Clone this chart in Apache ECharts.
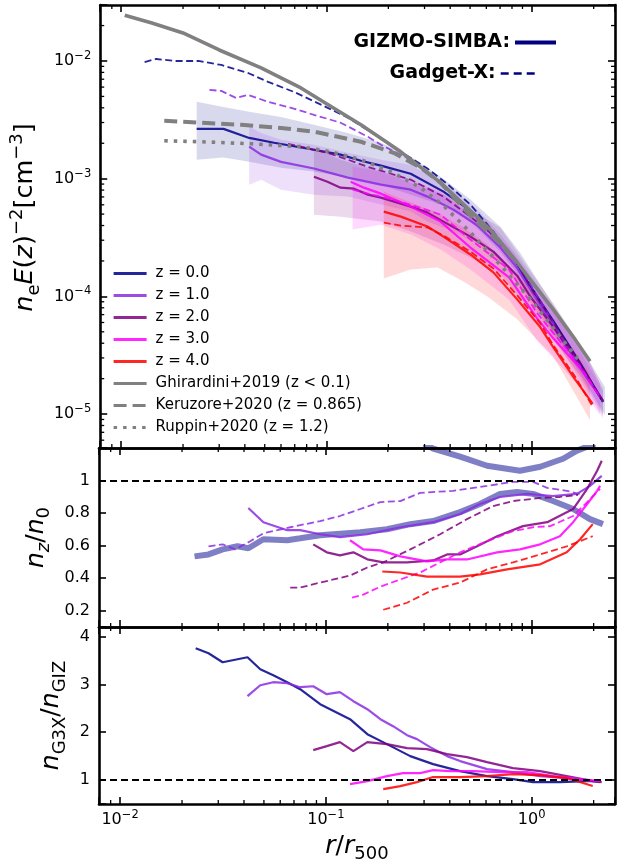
<!DOCTYPE html>
<html>
<head>
<meta charset="utf-8">
<script src="https://cdn.jsdelivr.net/npm/echarts@6/dist/echarts.min.js"></script>
<style>
  html, body { margin: 0; padding: 0; background: #fff; }
  #chart { width: 627px; height: 864px; }
</style>
</head>
<body>
<div id="chart"></div>
<script>
// ---- top panel: n_e E(z)^-2 profiles ----
const rGhir = [0.0104, 0.0141, 0.020, 0.030, 0.048, 0.075, 0.100, 0.147, 0.230, 0.359, 0.627, 0.848, 0.981, 1.27, 1.62, 1.92];
const nGhir = [2.45e-2, 2.10e-2, 1.73e-2, 1.24e-2, 8.73e-3, 5.90e-3, 4.33e-3, 2.87e-3, 1.69e-3, 9.25e-4, 3.70e-4, 1.94e-4, 1.39e-4, 7.76e-5, 4.33e-5, 2.81e-5];
const rKeru = [0.0162, 0.0245, 0.0384, 0.060, 0.0877, 0.147, 0.212, 0.287, 0.359, 0.502, 0.702, 0.848];
const nKeru = [3.10e-3, 2.99e-3, 2.87e-3, 2.70e-3, 2.50e-3, 2.06e-3, 1.66e-3, 1.24e-3, 9.25e-4, 4.85e-4, 2.81e-4, 1.91e-4];
const rRupp = [0.0162, 0.0245, 0.0429, 0.075, 0.105, 0.147, 0.205, 0.287, 0.371, 0.502, 0.702, 0.981, 1.23, 1.72];
const nRupp = [2.10e-3, 2.06e-3, 1.98e-3, 1.87e-3, 1.69e-3, 1.45e-3, 1.15e-3, 8.39e-4, 5.90e-4, 3.50e-4, 1.85e-4, 9.50e-5, 5.80e-5, 2.76e-5];

const rGizZ0 = [0.0233, 0.0315, 0.0420, 0.0555, 0.0868, 0.117, 0.147, 0.184, 0.257, 0.371, 0.502, 0.649, 0.811, 0.981, 1.27, 1.72, 2.22];
const nGizZ0 = [2.65e-3, 2.65e-3, 2.22e-3, 2.02e-3, 1.76e-3, 1.60e-3, 1.42e-3, 1.29e-3, 1.10e-3, 7.76e-4, 5.36e-4, 3.40e-4, 2.14e-4, 1.22e-4, 6.20e-5, 2.70e-5, 1.27e-5];
const rBandZ0 = [0.0233, 0.0315, 0.042, 0.060, 0.0868, 0.127, 0.184, 0.257, 0.359, 0.502, 0.702, 0.877, 1.27, 1.72, 2.27];
const loBandZ0 = [1.45e-3, 1.51e-3, 1.39e-3, 1.24e-3, 1.15e-3, 1.02e-3, 8.90e-4, 7.32e-4, 6.02e-4, 4.32e-4, 2.40e-4, 1.45e-4, 4.90e-5, 2.20e-5, 9.80e-6];
const hiBandZ0 = [4.50e-3, 4.07e-3, 3.70e-3, 3.35e-3, 2.87e-3, 2.45e-3, 2.02e-3, 1.54e-3, 1.04e-3, 6.64e-4, 3.90e-4, 2.35e-4, 8.50e-5, 3.80e-5, 1.69e-5];
const rG3xZ0 = [0.0130, 0.0148, 0.0182, 0.0238, 0.0307, 0.0415, 0.0519, 0.0694, 0.0970, 0.127, 0.170, 0.212, 0.310, 0.388, 0.502, 0.649, 0.848, 1.10, 1.37, 1.72, 2.22];
const nG3xZ0 = [9.80e-3, 1.04e-2, 1.00e-2, 1.00e-2, 9.25e-3, 7.91e-3, 6.64e-3, 5.46e-3, 4.15e-3, 3.30e-3, 2.40e-3, 1.85e-3, 1.22e-3, 9.00e-4, 6.02e-4, 3.55e-4, 1.90e-4, 9.00e-5, 4.90e-5, 2.65e-5, 1.27e-5];

const rGizZ1 = [0.0420, 0.048, 0.060, 0.0868, 0.127, 0.184, 0.257, 0.310, 0.415, 0.543, 0.702, 0.848, 1.10, 1.37, 1.72, 2.22];
const nGizZ1 = [1.87e-3, 1.60e-3, 1.39e-3, 1.22e-3, 1.02e-3, 8.90e-4, 8.07e-4, 7.04e-4, 5.46e-4, 4.00e-4, 2.60e-4, 1.74e-4, 8.40e-5, 4.55e-5, 2.48e-5, 1.30e-5];
const loBandZ1 = [8.90e-4, 9.81e-4, 8.07e-4, 7.32e-4, 7.04e-4, 6.02e-4, 5.25e-4, 4.32e-4, 3.56e-4, 2.76e-4, 1.98e-4, 1.30e-4, 6.80e-5, 3.70e-5, 1.95e-5, 9.25e-6];
const hiBandZ1 = [2.76e-3, 2.45e-3, 2.14e-3, 1.94e-3, 1.66e-3, 1.45e-3, 1.31e-3, 1.08e-3, 8.07e-4, 5.46e-4, 3.35e-4, 2.20e-4, 1.15e-4, 6.20e-5, 3.40e-5, 1.57e-5];
const rG3xZ1 = [0.0269, 0.0307, 0.0363, 0.0415, 0.0519, 0.0671, 0.0868, 0.117, 0.159, 0.184, 0.257, 0.371, 0.502, 0.702, 0.877, 1.10, 1.37, 1.72, 2.22];
const nG3xZ1 = [5.68e-3, 5.57e-3, 4.85e-3, 5.15e-3, 4.50e-3, 4.00e-3, 3.49e-3, 2.99e-3, 2.27e-3, 1.94e-3, 1.45e-3, 8.90e-4, 5.25e-4, 2.76e-4, 1.75e-4, 9.10e-5, 4.80e-5, 2.55e-5, 1.28e-5];

const rGizZ2 = [0.0868, 0.101, 0.117, 0.136, 0.159, 0.184, 0.257, 0.310, 0.371, 0.502, 0.649, 0.848, 0.981, 1.27, 1.72, 2.22];
const nGizZ2 = [1.04e-3, 9.43e-4, 8.39e-4, 8.23e-4, 7.32e-4, 6.90e-4, 5.79e-4, 5.15e-4, 4.32e-4, 3.22e-4, 2.40e-4, 1.50e-4, 1.00e-4, 5.50e-5, 2.60e-5, 1.29e-5];
const rBandZ2 = [0.0868, 0.117, 0.184, 0.257, 0.371, 0.502, 0.702, 0.981, 1.27, 1.72, 2.22];
const loBandZ2 = [4.95e-4, 4.76e-4, 4.32e-4, 3.56e-4, 2.76e-4, 2.14e-4, 1.54e-4, 7.50e-5, 4.30e-5, 2.10e-5, 9.80e-6];
const hiBandZ2 = [1.83e-3, 1.45e-3, 1.15e-3, 9.25e-4, 7.32e-4, 5.46e-4, 3.85e-4, 1.65e-4, 8.80e-5, 3.90e-5, 1.63e-5];
const rG3xZ2 = [0.0649, 0.075, 0.0868, 0.101, 0.127, 0.159, 0.184, 0.257, 0.371, 0.502, 0.649, 0.848, 0.981, 1.27, 1.72, 2.22];
const nG3xZ2 = [1.98e-3, 1.87e-3, 1.76e-3, 1.66e-3, 1.45e-3, 1.26e-3, 1.17e-3, 9.81e-4, 7.04e-4, 4.76e-4, 3.29e-4, 1.95e-4, 1.20e-4, 6.00e-5, 2.70e-5, 1.29e-5];

const rGizZ3 = [0.131, 0.152, 0.184, 0.257, 0.359, 0.502, 0.774, 1.06, 1.27, 1.72, 2.15];
const nGizZ3 = [9.43e-4, 8.39e-4, 7.46e-4, 5.79e-4, 4.32e-4, 2.60e-4, 1.45e-4, 6.50e-5, 4.40e-5, 2.45e-5, 1.39e-5];
const rBandZ3 = [0.134, 0.184, 0.257, 0.359, 0.502, 0.774, 1.06, 1.27, 1.72, 2.15];
const loBandZ3 = [3.70e-4, 4.07e-4, 3.35e-4, 2.50e-4, 1.69e-4, 9.43e-5, 4.20e-5, 3.00e-5, 1.70e-5, 9.80e-6];
const hiBandZ3 = [1.26e-3, 1.15e-3, 9.81e-4, 7.76e-4, 4.95e-4, 2.60e-4, 1.15e-4, 7.80e-5, 4.00e-5, 1.80e-5];
const rG3xZ3 = [0.134, 0.159, 0.184, 0.257, 0.359, 0.502, 0.774, 1.06, 1.27, 1.72, 2.15];
const nG3xZ3 = [8.07e-4, 7.46e-4, 7.04e-4, 6.02e-4, 4.95e-4, 3.04e-4, 1.69e-4, 7.20e-5, 4.90e-5, 2.55e-5, 1.39e-5];

const rGizZ4 = [0.190, 0.230, 0.310, 0.371, 0.502, 0.649, 0.848, 1.10, 1.27, 1.62, 1.98];
const nGizZ4 = [5.25e-4, 4.76e-4, 3.92e-4, 3.22e-4, 2.27e-4, 1.60e-4, 9.43e-5, 5.46e-5, 3.70e-5, 1.98e-5, 1.22e-5];
const rBandZ4 = [0.190, 0.257, 0.347, 0.464, 0.607, 0.848, 1.27, 1.92];
const loBandZ4 = [1.42e-4, 1.69e-4, 1.76e-4, 1.34e-4, 1.00e-4, 6.38e-5, 3.10e-5, 8.90e-6];
const hiBandZ4 = [7.76e-4, 6.27e-4, 5.15e-4, 3.85e-4, 2.76e-4, 1.54e-4, 6.38e-5, 2.18e-5];
const rG3xZ4 = [0.190, 0.230, 0.310, 0.371, 0.502, 0.649, 0.848, 1.10, 1.27, 1.62, 1.98];
const nG3xZ4 = [4.23e-4, 4.00e-4, 3.85e-4, 3.29e-4, 2.40e-4, 1.73e-4, 1.02e-4, 5.90e-5, 3.85e-5, 2.10e-5, 1.15e-5];

// ---- middle panel: n_z / n_0 ----
const rThickA = [0.0230, 0.0269, 0.0315, 0.0372, 0.0420, 0.0497, 0.0649, 0.075, 0.0938, 0.147, 0.198, 0.257, 0.332, 0.449, 0.561, 0.702, 0.848, 1.015, 1.27, 1.59, 1.92, 2.22];
const qThickA = [0.534, 0.546, 0.577, 0.596, 0.584, 0.639, 0.633, 0.645, 0.664, 0.683, 0.701, 0.732, 0.751, 0.806, 0.856, 0.918, 0.930, 0.918, 0.874, 0.825, 0.763, 0.732];
const rThickB = [0.300, 0.332, 0.449, 0.607, 0.877, 1.10, 1.42, 1.66, 2.03];
const qThickB = [1.227, 1.196, 1.147, 1.091, 1.060, 1.085, 1.134, 1.184, 1.227];
const rMidZ1 = [0.0420, 0.0497, 0.0649, 0.075, 0.0938, 0.117, 0.159, 0.230, 0.332, 0.449, 0.561, 0.702, 0.949, 1.27, 1.66, 1.92, 2.19];
const qMidZ1 = [0.831, 0.744, 0.695, 0.695, 0.670, 0.652, 0.670, 0.713, 0.744, 0.794, 0.856, 0.899, 0.918, 0.905, 0.918, 0.967, 1.029];
const rMidZ1g = [0.0269, 0.0315, 0.0363, 0.0429, 0.0497, 0.0671, 0.0938, 0.117, 0.147, 0.184, 0.230, 0.287, 0.415, 0.607, 0.811, 1.015, 1.19, 1.48, 1.77];
const qMidZ1g = [0.596, 0.608, 0.577, 0.627, 0.676, 0.713, 0.751, 0.782, 0.825, 0.868, 0.874, 0.924, 0.937, 0.967, 0.992, 0.992, 0.955, 0.937, 0.912];
const rMidZ2 = [0.0868, 0.101, 0.117, 0.136, 0.159, 0.190, 0.248, 0.332, 0.388, 0.449, 0.543, 0.679, 0.907, 1.19, 1.59, 1.86, 2.08, 2.19];
const qMidZ2 = [0.608, 0.559, 0.540, 0.559, 0.516, 0.497, 0.497, 0.509, 0.546, 0.546, 0.596, 0.658, 0.720, 0.744, 0.825, 0.949, 1.060, 1.122];
const rMidZ2g = [0.0671, 0.075, 0.0938, 0.131, 0.159, 0.190, 0.257, 0.359, 0.485, 0.649, 0.811, 1.10, 1.37, 1.68];
const qMidZ2g = [0.342, 0.342, 0.373, 0.416, 0.466, 0.497, 0.577, 0.670, 0.763, 0.843, 0.874, 0.893, 0.899, 0.912];
const rMidZ3 = [0.131, 0.152, 0.184, 0.230, 0.310, 0.388, 0.485, 0.679, 0.877, 1.10, 1.37, 1.59, 1.86, 2.08, 2.15];
const qMidZ3 = [0.633, 0.577, 0.571, 0.534, 0.503, 0.515, 0.515, 0.559, 0.577, 0.608, 0.658, 0.744, 0.856, 0.937, 0.967];
const rMidZ3g = [0.134, 0.152, 0.184, 0.230, 0.287, 0.359, 0.449, 0.607, 0.811, 1.015, 1.23, 1.59, 1.86, 2.15];
const qMidZ3g = [0.280, 0.299, 0.348, 0.392, 0.435, 0.497, 0.559, 0.627, 0.689, 0.713, 0.720, 0.782, 0.868, 0.949];
const rMidZ4 = [0.188, 0.230, 0.310, 0.449, 0.561, 0.759, 1.10, 1.48, 1.72, 1.98];
const qMidZ4 = [0.441, 0.435, 0.410, 0.410, 0.423, 0.454, 0.485, 0.559, 0.639, 0.732];
const rMidZ4g = [0.190, 0.248, 0.332, 0.449, 0.607, 0.811, 1.10, 1.48, 1.98];
const qMidZ4g = [0.206, 0.249, 0.330, 0.373, 0.454, 0.497, 0.546, 0.596, 0.658];

// ---- bottom panel: n_G3X / n_GIZ ----
const rBotZ0 = [0.0233, 0.0269, 0.0315, 0.0416, 0.048, 0.0555, 0.0649, 0.075, 0.0938, 0.131, 0.159, 0.198, 0.257, 0.332, 0.449, 0.607, 0.811, 1.015, 1.37, 1.86, 2.15];
const qBotZ0 = [3.756, 3.651, 3.463, 3.568, 3.317, 3.192, 3.046, 2.900, 2.587, 2.273, 1.960, 1.752, 1.501, 1.334, 1.188, 1.084, 1.021, 0.958, 0.958, 0.979, 0.979];
const rBotZ1 = [0.0416, 0.048, 0.0555, 0.0649, 0.075, 0.0868, 0.101, 0.117, 0.136, 0.159, 0.184, 0.212, 0.248, 0.277, 0.321, 0.388, 0.449, 0.607, 0.811, 1.10, 1.48, 1.98, 2.15];
const qBotZ1 = [2.754, 2.983, 3.046, 3.025, 2.942, 2.962, 2.795, 2.837, 2.649, 2.482, 2.273, 2.127, 1.939, 1.856, 1.689, 1.501, 1.397, 1.230, 1.167, 1.084, 1.042, 0.979, 0.958];
const rBotZ2 = [0.0868, 0.101, 0.117, 0.136, 0.159, 0.198, 0.248, 0.310, 0.388, 0.485, 0.607, 0.811, 1.10, 1.48, 1.98, 2.19];
const qBotZ2 = [1.626, 1.710, 1.793, 1.605, 1.793, 1.752, 1.668, 1.647, 1.543, 1.480, 1.376, 1.251, 1.188, 1.084, 0.979, 0.958];
const rBotZ3 = [0.131, 0.159, 0.198, 0.237, 0.287, 0.332, 0.400, 0.519, 0.702, 0.949, 1.27, 1.72, 2.15];
const qBotZ3 = [0.916, 0.979, 1.084, 1.146, 1.146, 1.209, 1.188, 1.188, 1.167, 1.167, 1.084, 1.021, 0.979];
const rBotZ4 = [0.190, 0.230, 0.277, 0.332, 0.449, 0.607, 0.811, 1.10, 1.48, 1.98];
const qBotZ4 = [0.812, 0.875, 0.958, 1.063, 1.063, 1.084, 1.125, 1.104, 1.042, 0.875];

// ---- axes ----
const X_RANGE = [0.0079, 2.54];
const Y_TOP = [5.15e-6, 0.0299];
const Y_MID = [0.1, 1.2];
const Y_BOT = [0.5, 4.2];
const xMinor = [0.009, 0.02, 0.03, 0.04, 0.05, 0.06, 0.07, 0.08, 0.09, 0.2, 0.3, 0.4, 0.5, 0.6, 0.7, 0.8, 0.9, 2];
const yMinor = [6e-6, 7e-6, 8e-6, 9e-6, 2e-5, 3e-5, 4e-5, 5e-5, 6e-5, 7e-5, 8e-5, 9e-5,
  2e-4, 3e-4, 4e-4, 5e-4, 6e-4, 7e-4, 8e-4, 9e-4, 2e-3, 3e-3, 4e-3, 5e-3, 6e-3, 7e-3, 8e-3, 9e-3, 2e-2];

const zLabels = ["z = 0.0", "z = 1.0", "z = 2.0", "z = 3.0", "z = 4.0"];
const zColors = ["#00008b", "#8a2be2", "#800080", "#ff00ff", "#ff0000"];
const obsLabels = ["Ghirardini+2019 (z < 0.1)", "Keruzore+2020 (z = 0.865)", "Ruppin+2020 (z = 1.2)"];

const FONT = "DejaVu Sans";
const GREY = "#808080";

const pts = (xs, ys) => xs.map((x, i) => [x, ys[i]]);

const tickRich = {
  b: { fontSize: 16, lineHeight: 22, fontFamily: FONT, color: "#000" },
  s: { fontSize: 11.5, lineHeight: 11, verticalAlign: "top", fontFamily: FONT, color: "#000" },
};

function makeRich(size) {
  const sub = Math.round(size * 0.7);
  const lh = Math.round(size * 1.36);
  return {
    i: { fontSize: size, lineHeight: lh, fontStyle: "italic", fontFamily: FONT, color: "#000" },
    r: { fontSize: size, lineHeight: lh, fontFamily: FONT, color: "#000" },
    sb: { fontSize: sub, lineHeight: Math.round(lh * 0.6), verticalAlign: "bottom", fontFamily: FONT, color: "#000" },
    si: { fontSize: sub, lineHeight: Math.round(lh * 0.6), verticalAlign: "bottom", fontStyle: "italic", fontFamily: FONT, color: "#000" },
    sp: { fontSize: sub, lineHeight: Math.round(lh * 0.47), verticalAlign: "top", fontFamily: FONT, color: "#000" },
  };
}

function powLabel(v) {
  const lg = Math.log10(v);
  const e = Math.round(lg);
  if (Math.abs(lg - e) > 1e-6) return "";
  return "{b|10}{s|" + (e < 0 ? "\u2212" + (-e) : e) + "}";
}

function frameLine() {
  return { show: true, onZero: false, lineStyle: { color: "#000", width: 2.6 } };
}
function majorTick() {
  return { show: true, inside: true, length: 7, lineStyle: { color: "#000", width: 1.6 } };
}

function xAx(gridIndex, position, labels) {
  const ax = {
    type: "log", gridIndex, position, min: X_RANGE[0], max: X_RANGE[1], z: 10,
    axisLine: frameLine(), axisTick: majorTick(), splitLine: { show: false },
    axisLabel: { show: labels, margin: 5, formatter: powLabel, rich: tickRich },
  };
  if (labels) {
    ax.name = "{i|r}{r|/}{i|r}{sb|500}";
    ax.nameLocation = "middle";
    ax.nameGap = 25;
    ax.nameTextStyle = { rich: makeRich(25) };
  }
  return ax;
}

function yAx(gridIndex, position, type, range, formatter, name, gap, size, pad) {
  const ax = {
    type, gridIndex, position, min: range[0], max: range[1], z: 10,
    axisLine: frameLine(), axisTick: majorTick(), splitLine: { show: false },
    axisLabel: {
      show: position === "left", margin: 9, formatter, rich: tickRich,
      fontSize: 16, fontFamily: FONT, color: "#000",
    },
  };
  if (name) {
    ax.name = name;
    ax.nameLocation = "middle";
    ax.nameRotate = 90;
    ax.nameGap = gap;
    ax.nameTextStyle = { rich: makeRich(size), padding: pad || 0 };
  }
  return ax;
}

const midFmt = (v) => (v < 0.15 || v > 1.15 ? "" : String(+v.toFixed(2)));
const botFmt = (v) => (v < 0.9 || v > 4.1 ? "" : String(+v.toFixed(2)));

function simLine(name, xs, ys, color, dashed, ax) {
  return {
    name, type: "line", xAxisIndex: ax, yAxisIndex: ax, data: pts(xs, ys),
    symbol: "none", showSymbol: false, silent: true, color, z: 3,
    lineStyle: { color, width: dashed ? 1.8 : 2.2, type: dashed ? [7, 3.5] : "solid", opacity: 0.85 },
  };
}

function bandSeries(name, xs, lo, hi, color) {
  return {
    name, type: "custom", xAxisIndex: 0, yAxisIndex: 0, z: 1, silent: true,
    data: [[xs[0], lo[0]]],
    renderItem: (params, api) => {
      const up = xs.map((x, i) => api.coord([x, hi[i]]));
      const dn = xs.map((x, i) => api.coord([x, lo[i]])).reverse();
      return { type: "polygon", shape: { points: up.concat(dn) }, style: { fill: color, opacity: 0.15 } };
    },
  };
}

function tickEl(x1, y1, x2, y2) {
  return { type: "line", shape: { x1, y1, x2, y2 }, style: { stroke: "#000", lineWidth: 1.3 } };
}

function minorXSeries(ax, yRef) {
  return {
    type: "custom", xAxisIndex: ax, yAxisIndex: ax, z: 12, silent: true,
    data: xMinor.map((v) => [v, yRef]),
    renderItem: (params, api) => {
      const cs = params.coordSys;
      const px = api.coord([api.value(0), api.value(1)])[0];
      return {
        type: "group",
        children: [tickEl(px, cs.y, px, cs.y + 4), tickEl(px, cs.y + cs.height, px, cs.y + cs.height - 4)],
      };
    },
  };
}

function minorYSeries() {
  return {
    type: "custom", xAxisIndex: 0, yAxisIndex: 0, z: 12, silent: true,
    data: yMinor.map((v) => [0.1, v]),
    renderItem: (params, api) => {
      const cs = params.coordSys;
      const py = api.coord([api.value(0), api.value(1)])[1];
      return {
        type: "group",
        children: [tickEl(cs.x, py, cs.x + 4, py), tickEl(cs.x + cs.width, py, cs.x + cs.width - 4, py)],
      };
    },
  };
}

const unityLine = {
  silent: true, symbol: "none", label: { show: false }, animation: false,
  lineStyle: { color: "#000", type: [7, 4], width: 1.8, opacity: 1 },
  data: [{ yAxis: 1 }],
};

const gizTop = [[rGizZ0, nGizZ0], [rGizZ1, nGizZ1], [rGizZ2, nGizZ2], [rGizZ3, nGizZ3], [rGizZ4, nGizZ4]];
const g3xTop = [[rG3xZ0, nG3xZ0], [rG3xZ1, nG3xZ1], [rG3xZ2, nG3xZ2], [rG3xZ3, nG3xZ3], [rG3xZ4, nG3xZ4]];
const bands = [[rBandZ0, loBandZ0, hiBandZ0], [rGizZ1, loBandZ1, hiBandZ1], [rBandZ2, loBandZ2, hiBandZ2],
  [rBandZ3, loBandZ3, hiBandZ3], [rBandZ4, loBandZ4, hiBandZ4]];
const midSolid = [null, [rMidZ1, qMidZ1], [rMidZ2, qMidZ2], [rMidZ3, qMidZ3], [rMidZ4, qMidZ4]];
const midDashed = [null, [rMidZ1g, qMidZ1g], [rMidZ2g, qMidZ2g], [rMidZ3g, qMidZ3g], [rMidZ4g, qMidZ4g]];
const botLines = [[rBotZ0, qBotZ0], [rBotZ1, qBotZ1], [rBotZ2, qBotZ2], [rBotZ3, qBotZ3], [rBotZ4, qBotZ4]];

const series = [];
bands.forEach((b, i) => series.push(bandSeries("band " + zLabels[i], b[0], b[1], b[2], zColors[i])));
gizTop.forEach((d, i) => series.push(simLine(zLabels[i], d[0], d[1], zColors[i], false, 0)));
g3xTop.forEach((d, i) => series.push(simLine("G3X " + zLabels[i], d[0], d[1], zColors[i], true, 0)));

series.push({
  name: obsLabels[0], type: "line", xAxisIndex: 0, yAxisIndex: 0, data: pts(rGhir, nGhir),
  symbol: "none", silent: true, color: GREY, z: 4, lineStyle: { color: GREY, width: 3.6 },
});
series.push({
  name: obsLabels[1], type: "line", xAxisIndex: 0, yAxisIndex: 0, data: pts(rKeru, nKeru),
  symbol: "none", silent: true, color: GREY, z: 4, lineStyle: { color: GREY, width: 4, type: [13, 6] },
});
series.push({
  name: obsLabels[2], type: "line", xAxisIndex: 0, yAxisIndex: 0, data: pts(rRupp, nRupp),
  symbol: "none", silent: true, color: GREY, z: 4, lineStyle: { color: GREY, width: 3.6, type: [3.5, 6], cap: "butt" },
});
series.push({ name: "GIZMO-SIMBA:", type: "line", xAxisIndex: 0, yAxisIndex: 0, data: [], symbol: "none", color: "#000080", lineStyle: { width: 4 } });
series.push({ name: "Gadget-X:", type: "line", xAxisIndex: 0, yAxisIndex: 0, data: [], symbol: "none", color: "#000080", lineStyle: { width: 2.6, type: [8, 5] } });

// middle panel
series.push({
  name: "thick A", type: "line", xAxisIndex: 2, yAxisIndex: 2, data: pts(rThickA, qThickA),
  symbol: "none", silent: true, z: 2, lineStyle: { color: "#00008b", width: 6, opacity: 0.5 },
  markLine: unityLine,
});
series.push({
  name: "thick B", type: "line", xAxisIndex: 2, yAxisIndex: 2, data: pts(rThickB, qThickB),
  symbol: "none", silent: true, z: 2, lineStyle: { color: "#00008b", width: 6, opacity: 0.5 },
});
for (let i = 1; i < 5; i++) {
  series.push(simLine("mid " + zLabels[i], midSolid[i][0], midSolid[i][1], zColors[i], false, 2));
  series.push(simLine("mid G3X " + zLabels[i], midDashed[i][0], midDashed[i][1], zColors[i], true, 2));
}

// bottom panel
botLines.forEach((d, i) => {
  const s = simLine("bot " + zLabels[i], d[0], d[1], zColors[i], false, 4);
  if (i === 0) s.markLine = unityLine;
  series.push(s);
});

series.push(minorXSeries(0, 1e-3), minorXSeries(2, 0.5), minorXSeries(4, 2), minorYSeries());

const option = {
  animation: false,
  backgroundColor: "#fff",
  textStyle: { fontFamily: FONT },
  grid: [
    { left: 99, right: 12, top: 5, height: 443 },
    { left: 99, right: 12, top: 448, height: 179 },
    { left: 99, right: 12, top: 627, height: 178 },
  ],
  xAxis: [xAx(0, "bottom", false), xAx(0, "top", false), xAx(1, "bottom", false), xAx(1, "top", false), xAx(2, "bottom", true), xAx(2, "top", false)],
  yAxis: [
    yAx(0, "left", "log", Y_TOP, powLabel, "{i|n}{sb|e}{i|E}{r|(}{i|z}{r|)}{sp|\u22122}{r|[cm}{sp|\u22123}{r|]}", 50, 25.5, [0, 0, 0, 18]),
    yAx(0, "right", "log", Y_TOP, powLabel),
    yAx(1, "left", "value", Y_MID, midFmt, "{i|n}{si|z}{r|/}{i|n}{sb|0}", 38, 25),
    yAx(1, "right", "value", Y_MID, midFmt),
    yAx(2, "left", "value", Y_BOT, botFmt, "{i|n}{sb|G3X}{r|/}{i|n}{sb|GIZ}", 23, 25),
    yAx(2, "right", "value", Y_BOT, botFmt),
  ],
  legend: [
    {
      data: zLabels.concat(obsLabels), orient: "vertical", left: 112, top: 266, padding: 0,
      itemWidth: 33, itemHeight: 14, itemGap: 7, selectedMode: false,
      itemStyle: { opacity: 0 }, lineStyle: { width: 3.2 },
      textStyle: { fontSize: 15, fontFamily: FONT, color: "#000", padding: [0, 0, 0, 4] },
    },
    {
      data: ["GIZMO-SIMBA:"], right: 69, top: 33, padding: 0, align: "right",
      itemWidth: 41, itemHeight: 18, selectedMode: false, itemStyle: { opacity: 0 }, lineStyle: { width: 4 },
      textStyle: { fontSize: 19, fontWeight: "bold", fontFamily: FONT, color: "#000" },
    },
    {
      data: ["Gadget-X:"], right: 87, top: 64, padding: 0, align: "right",
      itemWidth: 38, itemHeight: 18, selectedMode: false, itemStyle: { opacity: 0 }, lineStyle: { width: 2.6 },
      textStyle: { fontSize: 19, fontWeight: "bold", fontFamily: FONT, color: "#000" },
    },
  ],
  series,
};

const chart = echarts.init(document.getElementById("chart"), null, { renderer: "canvas" });
chart.setOption(option);
</script>
</body>
</html>
